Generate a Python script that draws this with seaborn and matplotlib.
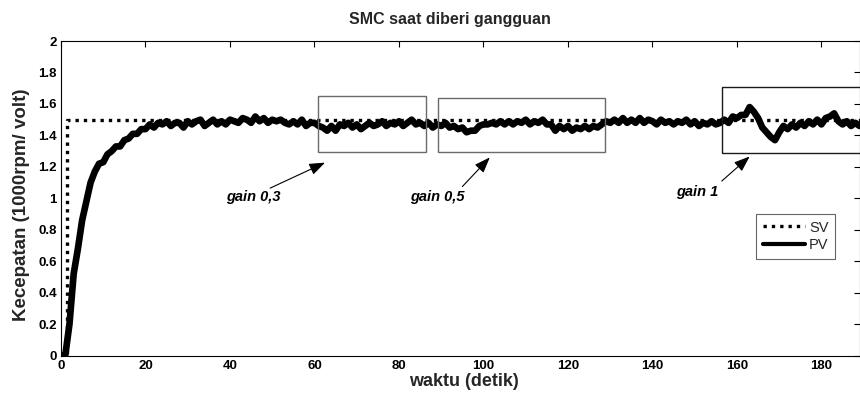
import numpy as np
import pandas as pd
import matplotlib
matplotlib.use("Agg")
import matplotlib.pyplot as plt
from matplotlib.patches import Rectangle
from matplotlib.lines import Line2D
import seaborn as sns

# ---------------- data ----------------
title = "SMC saat diberi gangguan"
xlabel = "waktu (detik)"
ylabel = "Kecepatan (1000rpm/ volt)"

sv_time = [0, 1.5, 1.5, 189]
sv_value = [0, 0, 1.5, 1.5]

pv_time = np.arange(0, 190, 1.0)
pv_value = [
    0.00, 0.00, 0.20, 0.52, 0.68, 0.86, 0.98, 1.10, 1.17, 1.22,
    1.23, 1.28, 1.30, 1.33, 1.33, 1.37, 1.38, 1.41, 1.41, 1.44,
    1.44, 1.47, 1.45, 1.48, 1.47,
    1.49, 1.46, 1.48, 1.48, 1.45, 1.49, 1.47, 1.49, 1.50, 1.46,
    1.48, 1.50, 1.47, 1.49, 1.47, 1.50, 1.49, 1.48, 1.51, 1.50,
    1.48, 1.52, 1.49, 1.51, 1.48, 1.50, 1.49, 1.50, 1.48, 1.47,
    1.49, 1.47, 1.50, 1.46, 1.48, 1.48, 1.46, 1.45, 1.43, 1.46,
    1.43, 1.47, 1.46, 1.48, 1.45, 1.47, 1.44, 1.46, 1.48, 1.46,
    1.47, 1.49, 1.46, 1.48, 1.47, 1.49, 1.46, 1.48, 1.50, 1.47,
    1.48, 1.46, 1.48, 1.45, 1.47, 1.46, 1.48, 1.45, 1.46, 1.44,
    1.45, 1.42, 1.43, 1.43, 1.46, 1.47, 1.47, 1.48, 1.47, 1.49,
    1.47, 1.49, 1.47, 1.49, 1.48, 1.50, 1.47, 1.49, 1.48, 1.50,
    1.47, 1.47, 1.43, 1.46, 1.44, 1.46, 1.43, 1.45, 1.44, 1.46,
    1.44, 1.46, 1.45, 1.47, 1.49, 1.48, 1.50, 1.48, 1.51, 1.48,
    1.50, 1.48, 1.51, 1.48, 1.50, 1.49, 1.47, 1.50, 1.48, 1.49,
    1.47, 1.49, 1.48, 1.50, 1.47, 1.49, 1.46, 1.48, 1.47, 1.49,
    1.47, 1.48, 1.50, 1.48, 1.52, 1.51, 1.53, 1.53, 1.58, 1.55,
    1.51, 1.45, 1.42, 1.39, 1.37, 1.42, 1.46, 1.44, 1.47, 1.45,
    1.48, 1.46, 1.49, 1.47, 1.50, 1.47, 1.51, 1.52, 1.54, 1.49,
    1.47, 1.49, 1.46, 1.48, 1.46,
]

x_ticks = [0, 20, 40, 60, 80, 100, 120, 140, 160, 180]
y_ticks = [0, 0.2, 0.4, 0.6, 0.8, 1.0, 1.2, 1.4, 1.6, 1.8, 2.0]
y_tick_labels = ["0", "0.2", "0.4", "0.6", "0.8", "1", "1.2", "1.4", "1.6", "1.8", "2"]

# zoom boxes: (x0, x1, y0, y1)
box_x0 = [60.9, 89.3, 156.5]
box_x1 = [86.4, 128.8, 200.0]
box_y0 = [1.297, 1.293, 1.29]
box_y1 = [1.65, 1.64, 1.71]
box_colors = ["#6a6a6a", "#6a6a6a", "#1a1a1a"]

gain_labels = ["gain 0,3", "gain 0,5", "gain 1"]
gain_text_x = [45.4, 89.0, 150.5]
gain_text_y = [1.01, 1.01, 1.04]
arrow_tail_x = [49.5, 95.0, 156.4]
arrow_tail_y = [1.065, 1.075, 1.11]
arrow_tip_x = [62.5, 101.5, 163.0]
arrow_tip_y = [1.227, 1.26, 1.266]

# ---------------- plotting ----------------
sns.set_theme(style="white")
plt.rcParams["font.family"] = ["Liberation Sans", "DejaVu Sans"]

fig = plt.figure(figsize=(8.6, 3.99), dpi=100)
W, H = 860, 399
ax = fig.add_axes([61 / W, 1 - 355.7 / H, (859.5 - 61) / W, (355.7 - 41) / H])

df_pv = pd.DataFrame({"t": pv_time, "v": pv_value})
df_sv = pd.DataFrame({"t": sv_time, "v": sv_value})

sns.lineplot(data=df_pv, x="t", y="v", color="black", linewidth=4.8,
             estimator=None, sort=False, ax=ax)
sns.lineplot(data=df_sv, x="t", y="v", color="black", linewidth=2.4,
             estimator=None, sort=False, ax=ax)
ax.lines[-1].set_linestyle((0, (1, 1.5)))
ax.lines[-1].set_dash_capstyle("butt")

for x0, x1, y0, y1, c in zip(box_x0, box_x1, box_y0, box_y1, box_colors):
    ax.add_patch(Rectangle((x0, y0), x1 - x0, y1 - y0, fill=False,
                           edgecolor=c, linewidth=1.0, zorder=3))

for lab, tx, ty, ax0, ay0, ax1, ay1 in zip(gain_labels, gain_text_x, gain_text_y,
                                            arrow_tail_x, arrow_tail_y,
                                            arrow_tip_x, arrow_tip_y):
    ax.text(tx, ty, lab, ha="center", va="center", fontsize=10.5,
            fontweight="bold", fontstyle="italic", color="black")
    ax.annotate("", xy=(ax1, ay1), xytext=(ax0, ay0),
                arrowprops=dict(arrowstyle="-|>,head_length=0.8,head_width=0.3",
                                color="black", lw=0.8, shrinkA=0, shrinkB=0))

ax.set_xlim(0, 189)
ax.set_ylim(0, 2)
ax.set_xticks(x_ticks, labels=[str(v) for v in x_ticks])
ax.set_yticks(y_ticks, labels=y_tick_labels)
ax.tick_params(direction="in", length=4, width=0.8, top=True, right=True,
               labelsize=9.5, pad=3, colors="black")
for lab in ax.get_xticklabels() + ax.get_yticklabels():
    lab.set_fontweight("bold")
for s in ax.spines.values():
    s.set_color("black")
    s.set_linewidth(0.8)

ax.set_title(title, fontsize=11.5, fontweight="bold", x=(450 - 61) / 798.5, pad=12)
ax.set_xlabel(xlabel, fontsize=13, fontweight="bold")
ax.set_ylabel(ylabel, fontsize=13.5, fontweight="bold")
ax.xaxis.set_label_coords((464 - 61) / 798.5, (355.7 - 373) / 314.7)
ax.yaxis.set_label_coords((30 - 61) / 798.5, (355.7 - 205) / 314.7)

handles = [
    Line2D([], [], color="black", linewidth=2.4, linestyle=(0, (1, 1.5)),
           dash_capstyle="butt"),
    Line2D([], [], color="black", linewidth=3.0),
]
leg = ax.legend(handles, ["SV", "PV"], loc="upper left",
                bbox_to_anchor=((756 - 61) / 798.5, (355.7 - 214) / 314.7),
                borderaxespad=0, frameon=True, fancybox=False,
                edgecolor="#404040", fontsize=10.5, handlelength=2.9,
                handletextpad=0.3, borderpad=0.45, labelspacing=0.25)
leg.get_frame().set_linewidth(0.8)

fig.savefig("out.png", dpi=100, facecolor="white")
